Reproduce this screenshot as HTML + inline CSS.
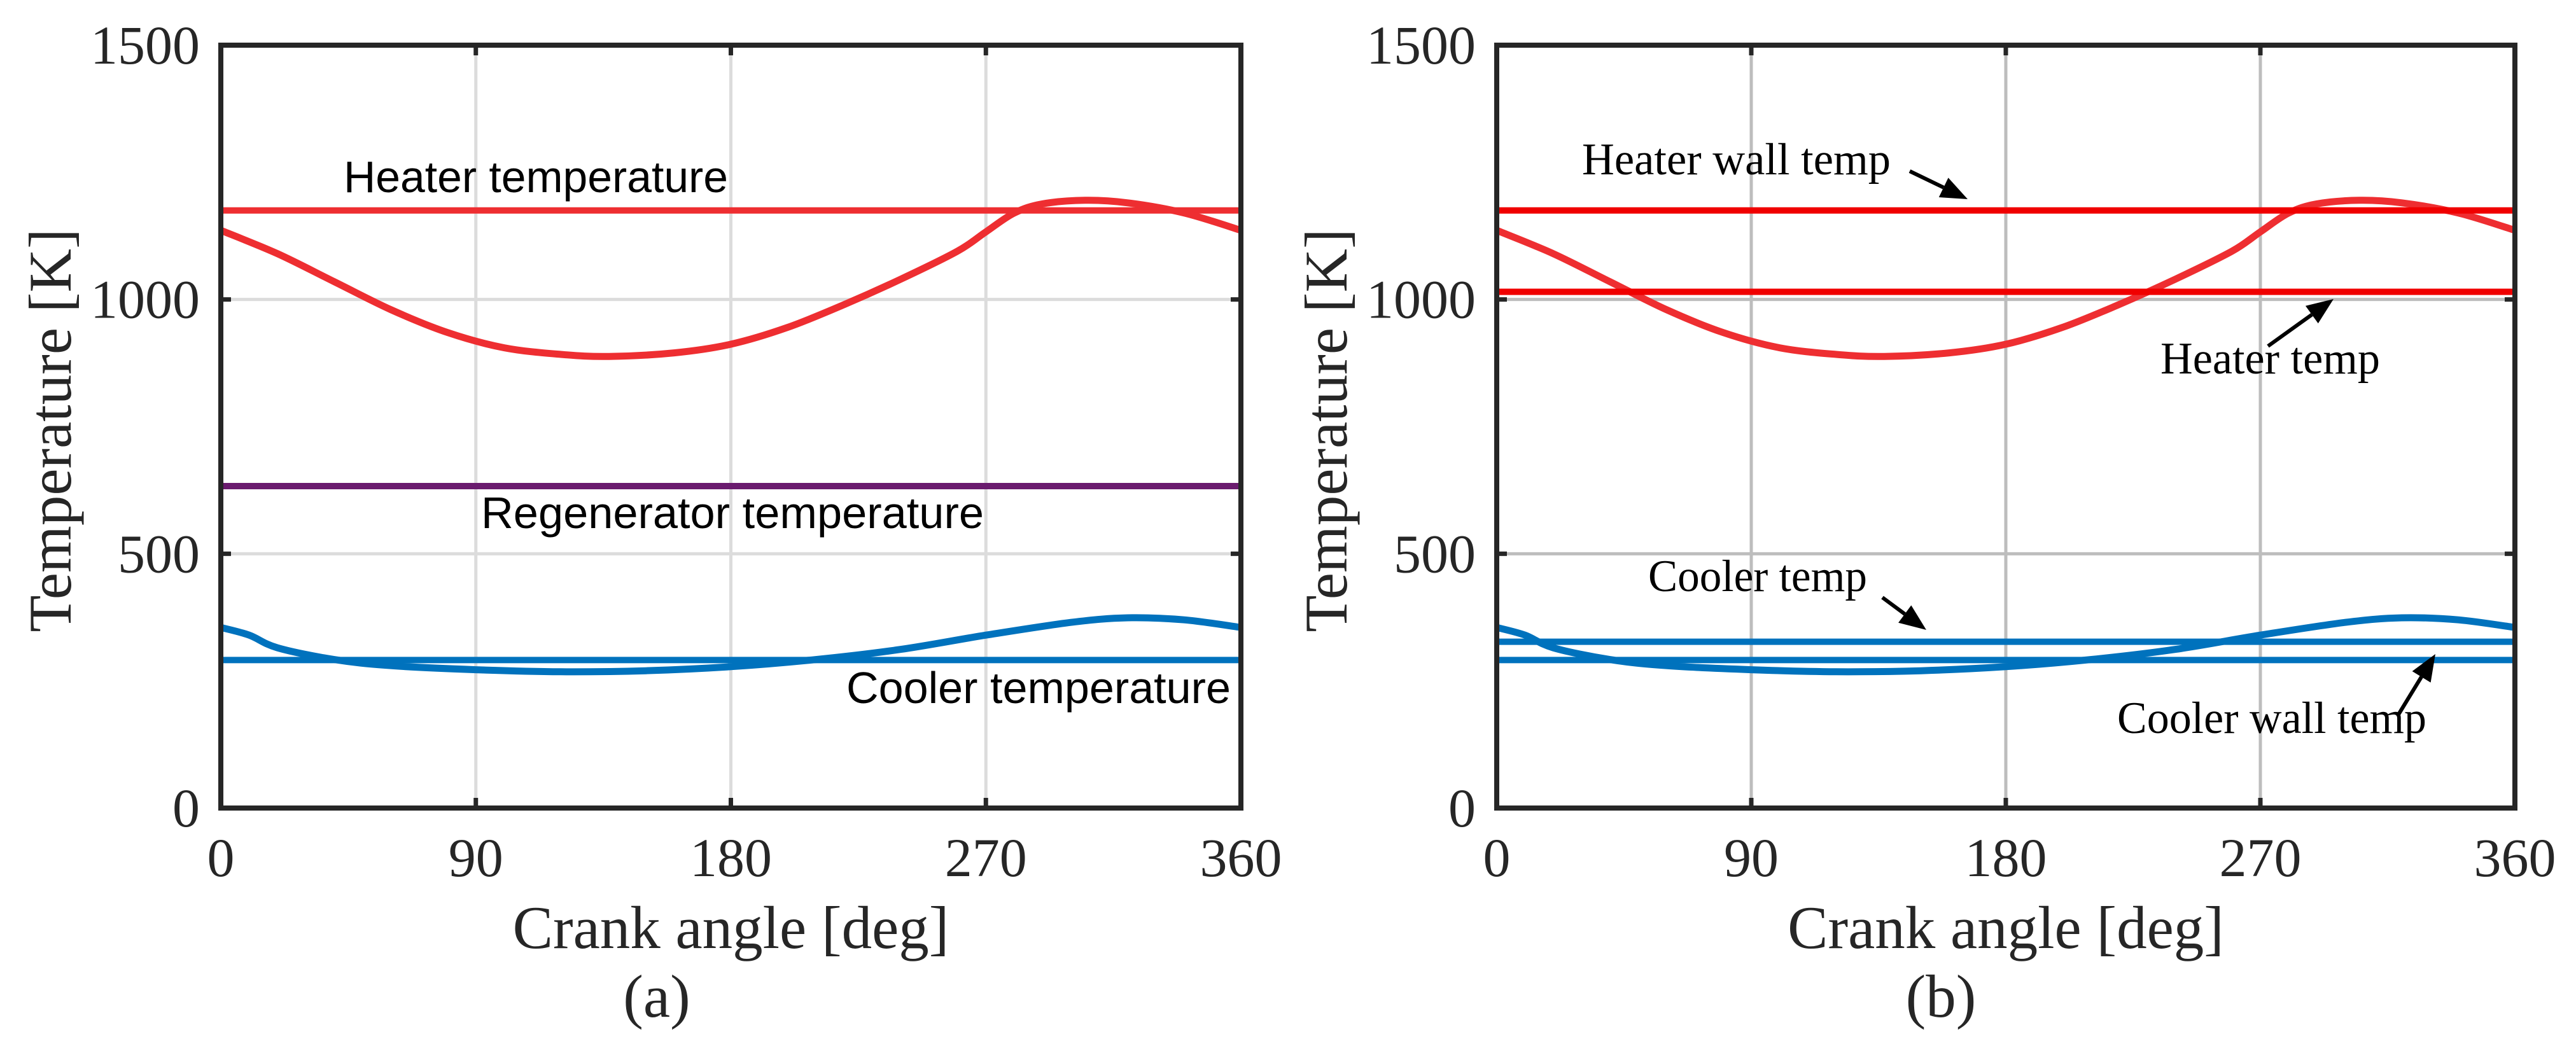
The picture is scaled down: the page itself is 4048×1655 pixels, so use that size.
<!DOCTYPE html>
<html><head><meta charset="utf-8"><style>
html,body{margin:0;padding:0;background:#fff;}
svg{display:block;}
.tick{font-family:"Liberation Serif",serif;font-size:86px;fill:#262626;}
.title{font-family:"Liberation Serif",serif;font-size:95px;fill:#262626;}
.ann{font-family:"Liberation Sans",sans-serif;font-size:70px;fill:#000;}
.annb{font-family:"Liberation Serif",serif;font-size:71px;fill:#000;}
</style></head><body>
<svg id="fig" width="4048" height="1655" viewBox="0 0 4048 1655" xmlns="http://www.w3.org/2000/svg"></svg>
<script>
const xTicks = [0, 90, 180, 270, 360];
const yTicks = [0, 500, 1000, 1500];
const heaterGasAngle = [0,20,40,60,80,100,120,137,160,180,200,220,240,260,270,280,290,305,320,340,360];
const heaterGasTemp = [1136,1090,1035,980,935,905,892,888,895,912,945,990,1040,1095,1133,1170,1188,1195,1190,1170,1136];
const coolerGasAngle = [0,10,20,40,60,90,120,150,180,210,240,270,300,320,340,360];
const coolerGasTemp = [355,340,315,292,280,272,268,270,278,292,312,340,365,374,370,355];
const heaterTempA = 1175;
const regenTempA = 633;
const coolerTempA = 291;
const heaterWallTempB = 1175;
const heaterTempB = 1015;
const coolerTempB = 327;
const coolerWallTempB = 291;

const NS = "http://www.w3.org/2000/svg";
const svg = document.getElementById('fig');
function mk(tag, attrs, parent){ const e=document.createElementNS(NS,tag); for(const k in attrs) e.setAttribute(k,attrs[k]); (parent||svg).appendChild(e); return e; }

function panel(x0, x1, y0, y1, gridColor, id){
  const g = mk('g', {});
  
  
  const sx = v => x0 + (v/360)*(x1-x0);
  const sy = v => y1 - (v/1500)*(y1-y0);
  xTicks.forEach(t=>{
    if(t>0 && t<360){ const l=mk('line',{x1:sx(t),x2:sx(t),y1:y0,y2:y1,stroke:gridColor,'stroke-width':5},g);
        }
  });
  yTicks.forEach(t=>{
    if(t>0 && t<1500){ const l=mk('line',{x1:x0,x2:x1,y1:sy(t),y2:sy(t),stroke:gridColor,'stroke-width':5},g);
        }
  });
  return {g, sx, sy, frame(){
    xTicks.forEach(t=>{
      mk('line',{x1:sx(t),x2:sx(t),y1:y1,y2:y1-16,stroke:'#262626','stroke-width':7},g);
      mk('line',{x1:sx(t),x2:sx(t),y1:y0,y2:y0+16,stroke:'#262626','stroke-width':7},g);
      const tx=mk('text',{x:sx(t),y:1377,'text-anchor':'middle',class:'tick'},g); tx.textContent=t;
       
    });
    yTicks.forEach(t=>{
      mk('line',{x1:x0,x2:x0+16,y1:sy(t),y2:sy(t),stroke:'#262626','stroke-width':7},g);
      mk('line',{x1:x1,x2:x1-16,y1:sy(t),y2:sy(t),stroke:'#262626','stroke-width':7},g);
      const tx=mk('text',{x:x0-33,y:sy(t)+29,'text-anchor':'end',class:'tick'},g); tx.textContent=t;
       
    });
    const r=mk('rect',{x:x0,y:y0,width:x1-x0,height:y1-y0,fill:'none',stroke:'#262626','stroke-width':8},g);
     
    const xt=mk('text',{x:(x0+x1)/2,y:1490,'text-anchor':'middle',class:'title'},g); xt.textContent='Crank angle [deg]';
     
    const cy=(y0+y1)/2+6;
    const yt=mk('text',{x:x0-236,y:cy,'text-anchor':'middle',class:'title',transform:`rotate(-90 ${x0-236} ${cy})`},g);
    yt.textContent='Temperature [K]';
     
  }};
}
function curve(p, xs, ys, color, name){
  const P = xs.map((a,i)=>[p.sx(a), p.sy(ys[i])]);
  let d='M'+P[0][0].toFixed(1)+','+P[0][1].toFixed(1);
  for(let i=0;i<P.length-1;i++){
    const p0=P[Math.max(0,i-1)], p1=P[i], p2=P[i+1], p3=P[Math.min(P.length-1,i+2)];
    const c1=[p1[0]+(p2[0]-p0[0])/6, p1[1]+(p2[1]-p0[1])/6];
    const c2=[p2[0]-(p3[0]-p1[0])/6, p2[1]-(p3[1]-p1[1])/6];
    d+=`C${c1[0].toFixed(1)},${c1[1].toFixed(1)} ${c2[0].toFixed(1)},${c2[1].toFixed(1)} ${p2[0].toFixed(1)},${p2[1].toFixed(1)}`;
  }
  const e=mk('path',{d:d,fill:'none',stroke:color,'stroke-width':11,'stroke-linejoin':'round'},p.g);
   
}
function hline(p, v, color, name){
  const e=mk('line',{x1:p.sx(0),x2:p.sx(360),y1:p.sy(v),y2:p.sy(v),stroke:color,'stroke-width':10},p.g);
   
}
function label(p, txt, x, y, cls, len, name){
  const t=mk('text',{x:x,y:y,class:cls,textLength:len,lengthAdjust:'spacingAndGlyphs'},p.g); t.textContent=txt;
   
}
function arrow(p, xa, ya, xb, yb, name){
  const g=mk('g',{},p.g);
   
  const dx=xb-xa, dy=yb-ya, L=Math.hypot(dx,dy), ux=dx/L, uy=dy/L, hl=42, hw=17;
  const bx=xb-ux*hl, by=yb-uy*hl;
  mk('line',{x1:xa,y1:ya,x2:bx,y2:by,stroke:'#000','stroke-width':6},g);
  mk('polygon',{points:`${xb},${yb} ${bx-uy*hw},${by+ux*hw} ${bx+uy*hw},${by-ux*hw}`,fill:'#000'},g);
}

// Panel (a)
const A = panel(347, 1950, 71, 1270, '#dcdcdc', 'a');
hline(A, heaterTempA, '#ee2e31', 'heater-temperature-line');
curve(A, heaterGasAngle, heaterGasTemp, '#ee2e31', 'heater-gas-curve');
hline(A, regenTempA, '#6a1b6e', 'regenerator-temperature-line');
curve(A, coolerGasAngle, coolerGasTemp, '#0072bd', 'cooler-gas-curve');
hline(A, coolerTempA, '#0072bd', 'cooler-temperature-line');
A.frame();
label(A, 'Heater temperature', 540, 302, 'ann', 604, 'heater-temperature-label');
label(A, 'Regenerator temperature', 756, 830, 'ann', 790, 'regenerator-temperature-label');
label(A, 'Cooler temperature', 1330, 1105, 'ann', 604, 'cooler-temperature-label');
const ca=mk('text',{x:1032,y:1598,'text-anchor':'middle',class:'title','font-size':'80'},A.g); ca.textContent='(a)';
 

// Panel (b)
const B = panel(2352, 3952, 71, 1270, '#bdbdbd', 'b');
curve(B, heaterGasAngle, heaterGasTemp, '#ee2e31', 'heater-gas-curve-b');
hline(B, heaterWallTempB, '#f00000', 'heater-wall-temp-line');
hline(B, heaterTempB, '#f00000', 'heater-temp-line');
curve(B, coolerGasAngle, coolerGasTemp, '#0072bd', 'cooler-gas-curve-b');
hline(B, coolerTempB, '#0072bd', 'cooler-temp-line');
hline(B, coolerWallTempB, '#0072bd', 'cooler-wall-temp-line');
B.frame();
label(B, 'Heater wall temp', 2486, 274, 'annb', 485, 'heater-wall-temp-label');
label(B, 'Heater temp', 3395, 587, 'annb', 345, 'heater-temp-label');
label(B, 'Cooler temp', 2590, 929, 'annb', 344, 'cooler-temp-label');
label(B, 'Cooler wall temp', 3327, 1152, 'annb', 486, 'cooler-wall-temp-label');
arrow(B, 3001, 269, 3092, 313, 'heater-wall-arrow');
arrow(B, 3564, 544, 3667, 470, 'heater-temp-arrow');
arrow(B, 2958, 939, 3027, 990, 'cooler-temp-arrow');
arrow(B, 3769, 1123, 3827, 1028, 'cooler-wall-arrow');
const cb=mk('text',{x:3050,y:1598,'text-anchor':'middle',class:'title','font-size':'80'},B.g); cb.textContent='(b)';
 
</script>
</body></html>
